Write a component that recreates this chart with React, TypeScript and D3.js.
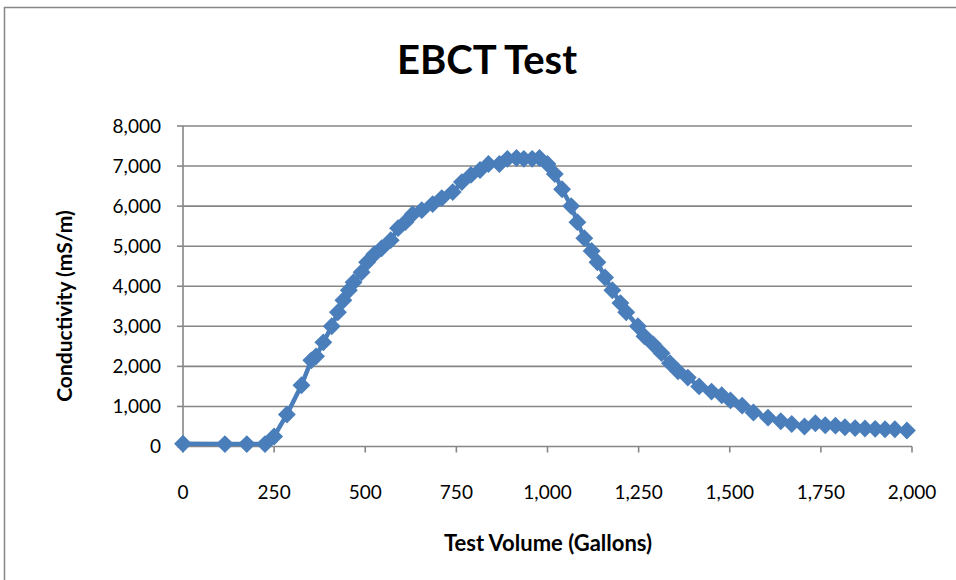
import React, { useEffect, useRef } from 'react'
import * as d3 from 'd3'

// test volume (gallons) and conductivity (mS/m)
const volume = [
  0, 115, 175, 225, 250, 285, 325, 352, 365, 385, 408, 425, 440, 455, 468, 490, 505, 525, 545, 570,
  590, 610, 630, 655, 685, 710, 740, 765, 790, 815, 838, 868, 890, 915, 935, 958, 978, 1000, 1020, 1040,
  1065, 1082, 1101, 1121, 1137, 1158, 1178, 1200, 1216, 1248, 1266, 1290, 1313, 1336, 1358, 1385, 1416, 1450, 1478, 1502,
  1534, 1565, 1605, 1640, 1670, 1705, 1735, 1762, 1790, 1816, 1844, 1871, 1899, 1926, 1953, 1986,
]
const conductivity = [
  70, 60, 60, 60, 250, 800, 1530, 2150, 2250, 2600, 3000, 3350, 3650, 3900, 4100, 4350, 4600, 4800, 4950, 5150,
  5450, 5600, 5800, 5900, 6050, 6200, 6350, 6600, 6780, 6900, 7050, 7050, 7180, 7200, 7180, 7180, 7200, 7050, 6800, 6420,
  6000, 5600, 5200, 4880, 4600, 4220, 3900, 3580, 3350, 3000, 2750, 2550, 2330, 2080, 1880, 1720, 1500, 1370, 1280, 1150,
  1020, 850, 720, 630, 560, 500, 580, 530, 520, 480, 460, 450, 440, 430, 430, 400,
]
const xTicks = [0, 250, 500, 750, 1000, 1250, 1500, 1750, 2000]
const yTicks = [0, 1000, 2000, 3000, 4000, 5000, 6000, 7000, 8000]

const W = 956
const H = 580
const FONT = 'Lato, "Open Sans", sans-serif'
const BLUE = '#4a7ebb'
const GRID = '#868686'

export default function App() {
  const ref = useRef<SVGSVGElement | null>(null)

  useEffect(() => {
    if (!ref.current) return
    const svg = d3.select(ref.current)
    svg.selectAll('*').remove()

    const x = d3.scaleLinear().domain([0, 2000]).range([183, 912])
    const y = d3.scaleLinear().domain([0, 8000]).range([446.5, 126])
    const fmt = d3.format(',')

    // chart border (right and bottom sides are cut off in the picture)
    svg.append('rect')
      .attr('x', 4.5).attr('y', 7.5)
      .attr('width', 1200).attr('height', 1200)
      .attr('fill', 'white')
      .attr('stroke', GRID).attr('stroke-width', 1.5)

    // gridlines
    svg.append('g')
      .selectAll('line')
      .data(yTicks.filter((d) => d > 0))
      .join('line')
      .attr('x1', x(0)).attr('x2', x(2000))
      .attr('y1', (d) => y(d)).attr('y2', (d) => y(d))
      .attr('stroke', GRID).attr('stroke-width', 1.6)

    // y axis
    const ya = svg.append('g')
    ya.append('line')
      .attr('x1', x(0)).attr('x2', x(0))
      .attr('y1', y(8000)).attr('y2', y(0))
      .attr('stroke', GRID).attr('stroke-width', 1.6)
    ya.selectAll('line.tick')
      .data(yTicks)
      .join('line')
      .attr('class', 'tick')
      .attr('x1', x(0) - 6).attr('x2', x(0))
      .attr('y1', (d) => y(d)).attr('y2', (d) => y(d))
      .attr('stroke', GRID).attr('stroke-width', 1.6)
    ya.selectAll('text')
      .data(yTicks)
      .join('text')
      .attr('x', 161)
      .attr('y', (d) => y(d))
      .attr('dy', '0.35em')
      .attr('text-anchor', 'end')
      .attr('font-family', FONT)
      .attr('font-size', 19)
      .attr('fill', '#000')
      .text((d) => fmt(d))

    // x axis
    const xa = svg.append('g')
    xa.append('line')
      .attr('x1', x(0)).attr('x2', x(2000))
      .attr('y1', y(0)).attr('y2', y(0))
      .attr('stroke', GRID).attr('stroke-width', 1.6)
    xa.selectAll('line.tick')
      .data(xTicks)
      .join('line')
      .attr('class', 'tick')
      .attr('x1', (d) => x(d)).attr('x2', (d) => x(d))
      .attr('y1', y(0)).attr('y2', y(0) + 6)
      .attr('stroke', GRID).attr('stroke-width', 1.6)
    xa.selectAll('text')
      .data(xTicks)
      .join('text')
      .attr('x', (d) => x(d))
      .attr('y', 499)
      .attr('text-anchor', 'middle')
      .attr('font-family', FONT)
      .attr('font-size', 19)
      .attr('fill', '#000')
      .text((d) => fmt(d))

    // series
    const pts = volume.map((v, i) => [v, conductivity[i]] as [number, number])
    const line = d3.line<[number, number]>().x((d) => x(d[0])).y((d) => y(d[1]))
    svg.append('path')
      .attr('d', line(pts) || '')
      .attr('fill', 'none')
      .attr('stroke', BLUE)
      .attr('stroke-width', 4.5)
      .attr('stroke-linejoin', 'round')

    const diamond = d3.symbol().type(d3.symbolSquare).size(160)
    svg.append('g')
      .selectAll('path')
      .data(pts)
      .join('path')
      .attr('d', diamond() || '')
      .attr('transform', (d) => `translate(${x(d[0])},${y(d[1])}) rotate(45)`)
      .attr('fill', BLUE)

    // titles
    svg.append('text')
      .attr('x', 487).attr('y', 74)
      .attr('text-anchor', 'middle')
      .attr('font-family', FONT)
      .attr('font-weight', 700)
      .attr('font-size', 40)
      .attr('fill', '#000')
      .text('EBCT Test')

    svg.append('text')
      .attr('x', 548).attr('y', 551)
      .attr('text-anchor', 'middle')
      .attr('font-family', FONT)
      .attr('font-weight', 700)
      .attr('font-size', 22)
      .attr('fill', '#000')
      .text('Test Volume (Gallons)')

    svg.append('text')
      .attr('transform', 'translate(72,306) rotate(-90)')
      .attr('text-anchor', 'middle')
      .attr('font-family', FONT)
      .attr('font-weight', 700)
      .attr('font-size', 21)
      .attr('fill', '#000')
      .text('Conductivity (mS/m)')
  }, [])

  return (
    <svg
      ref={ref}
      width={W}
      height={H}
      style={{ position: 'absolute', left: 0, top: 0, background: 'white' }}
    />
  )
}
